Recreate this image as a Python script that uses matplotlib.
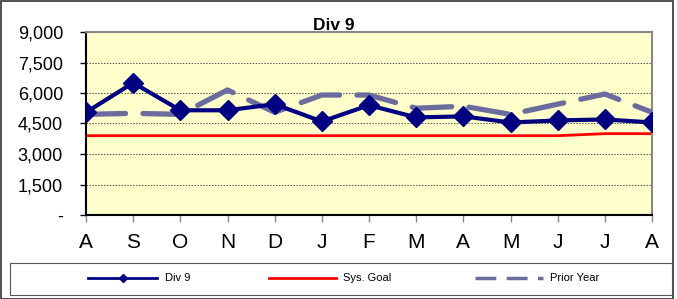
import matplotlib
matplotlib.use("Agg")
import matplotlib.pyplot as plt
from matplotlib.patches import Rectangle
from matplotlib.lines import Line2D

months = ["A", "S", "O", "N", "D", "J", "F", "M", "A", "M", "J", "J", "A"]
div9 = [5050, 6500, 5150, 5150, 5450, 4600, 5400, 4800, 4850, 4550, 4650, 4700, 4550]
sys_goal = [3900, 3900, 3900, 3900, 3900, 3900, 3900, 3900, 3900, 3900, 3900, 4000, 4000]
prior_year = [4950, 5000, 4950, 6150, 5050, 5900, 5900, 5250, 5350, 4950, 5450, 5950, 5050]
yticks = [0, 1500, 3000, 4500, 6000, 7500, 9000]
ytick_labels = ["-", "1,500", "3,000", "4,500", "6,000", "7,500", "9,000"]
series_names = ["Div 9", "Sys. Goal", "Prior Year"]

plt.rcParams['font.family'] = ['Liberation Sans', 'DejaVu Sans']

W, H = 677, 299
fig = plt.figure(figsize=(W / 100, H / 100), dpi=100)
fig.patches.append(Rectangle((0.001, 0.001), 672 / W, 0.994, transform=fig.transFigure,
                             fill=False, edgecolor="#333333", lw=1.2))

ax = fig.add_axes([86 / W, 1 - 215 / H, (652 - 86) / W, (215 - 32) / H])
ax.set_facecolor("#FFFFCC")
x = list(range(len(months)))

for yv in yticks[1:-1]:
    ax.axhline(yv, color="#555555", lw=0.7, ls=(0, (1.5, 1.5)), zorder=1)

ax.plot(x, sys_goal, color="#FF0000", lw=2, zorder=2)
ax.plot(x, prior_year, color="#6B6B9E", lw=3.8, dashes=(7.5, 3.3),
        dash_capstyle="round", zorder=3)
ax.plot(x, div9, color="#000080", lw=3, marker="D", markersize=10, zorder=4)

ax.set_xlim(0, len(months) - 1)
ax.set_ylim(0, 9000)
ax.set_yticks(yticks)
ax.set_yticklabels(ytick_labels, fontsize=13)
ax.set_xticks(x)
ax.set_xticklabels(months, fontsize=15)
ax.tick_params(axis="y", length=4.5, width=1, color="black", pad=12)
ax.tick_params(axis="x", length=5, width=1, color="#888888", pad=8)

for side in ["left", "bottom"]:
    ax.spines[side].set_color("black")
    ax.spines[side].set_linewidth(1.5)
for side in ["top", "right"]:
    ax.spines[side].set_color("#888888")
    ax.spines[side].set_linewidth(1.5)

fig.text(333.5 / W, 1 - 26 / H, "Div 9", ha="center", va="center",
         fontsize=12.5, fontweight="bold", zorder=10)

# legend box drawn in figure coordinates
def fx(px):
    return px / W

def fy(py):
    return 1 - py / H

fig.patches.append(Rectangle((fx(10), fy(295)), (672 - 10) / W, (295 - 263) / H,
                             transform=fig.transFigure, fill=False,
                             edgecolor="#555555", lw=0.8))
ly = fy(278)
fig.lines.append(Line2D([fx(88), fx(157)], [ly, ly], transform=fig.transFigure,
                        color="#000080", lw=2))
fig.lines.append(Line2D([fx(123)], [ly], transform=fig.transFigure,
                        color="#000080", marker="D", markersize=4, lw=0))
fig.lines.append(Line2D([fx(269), fx(336)], [ly, ly], transform=fig.transFigure,
                        color="#FF0000", lw=2))
fig.lines.append(Line2D([fx(475), fx(543)], [ly, ly], transform=fig.transFigure,
                        color="#6B6B9E", lw=2.5, dashes=(6, 3)))
for px, name in zip([165, 343, 550], series_names):
    fig.text(fx(px), ly, name, ha="left", va="center", fontsize=8)

fig.savefig("out.png", dpi=100)
